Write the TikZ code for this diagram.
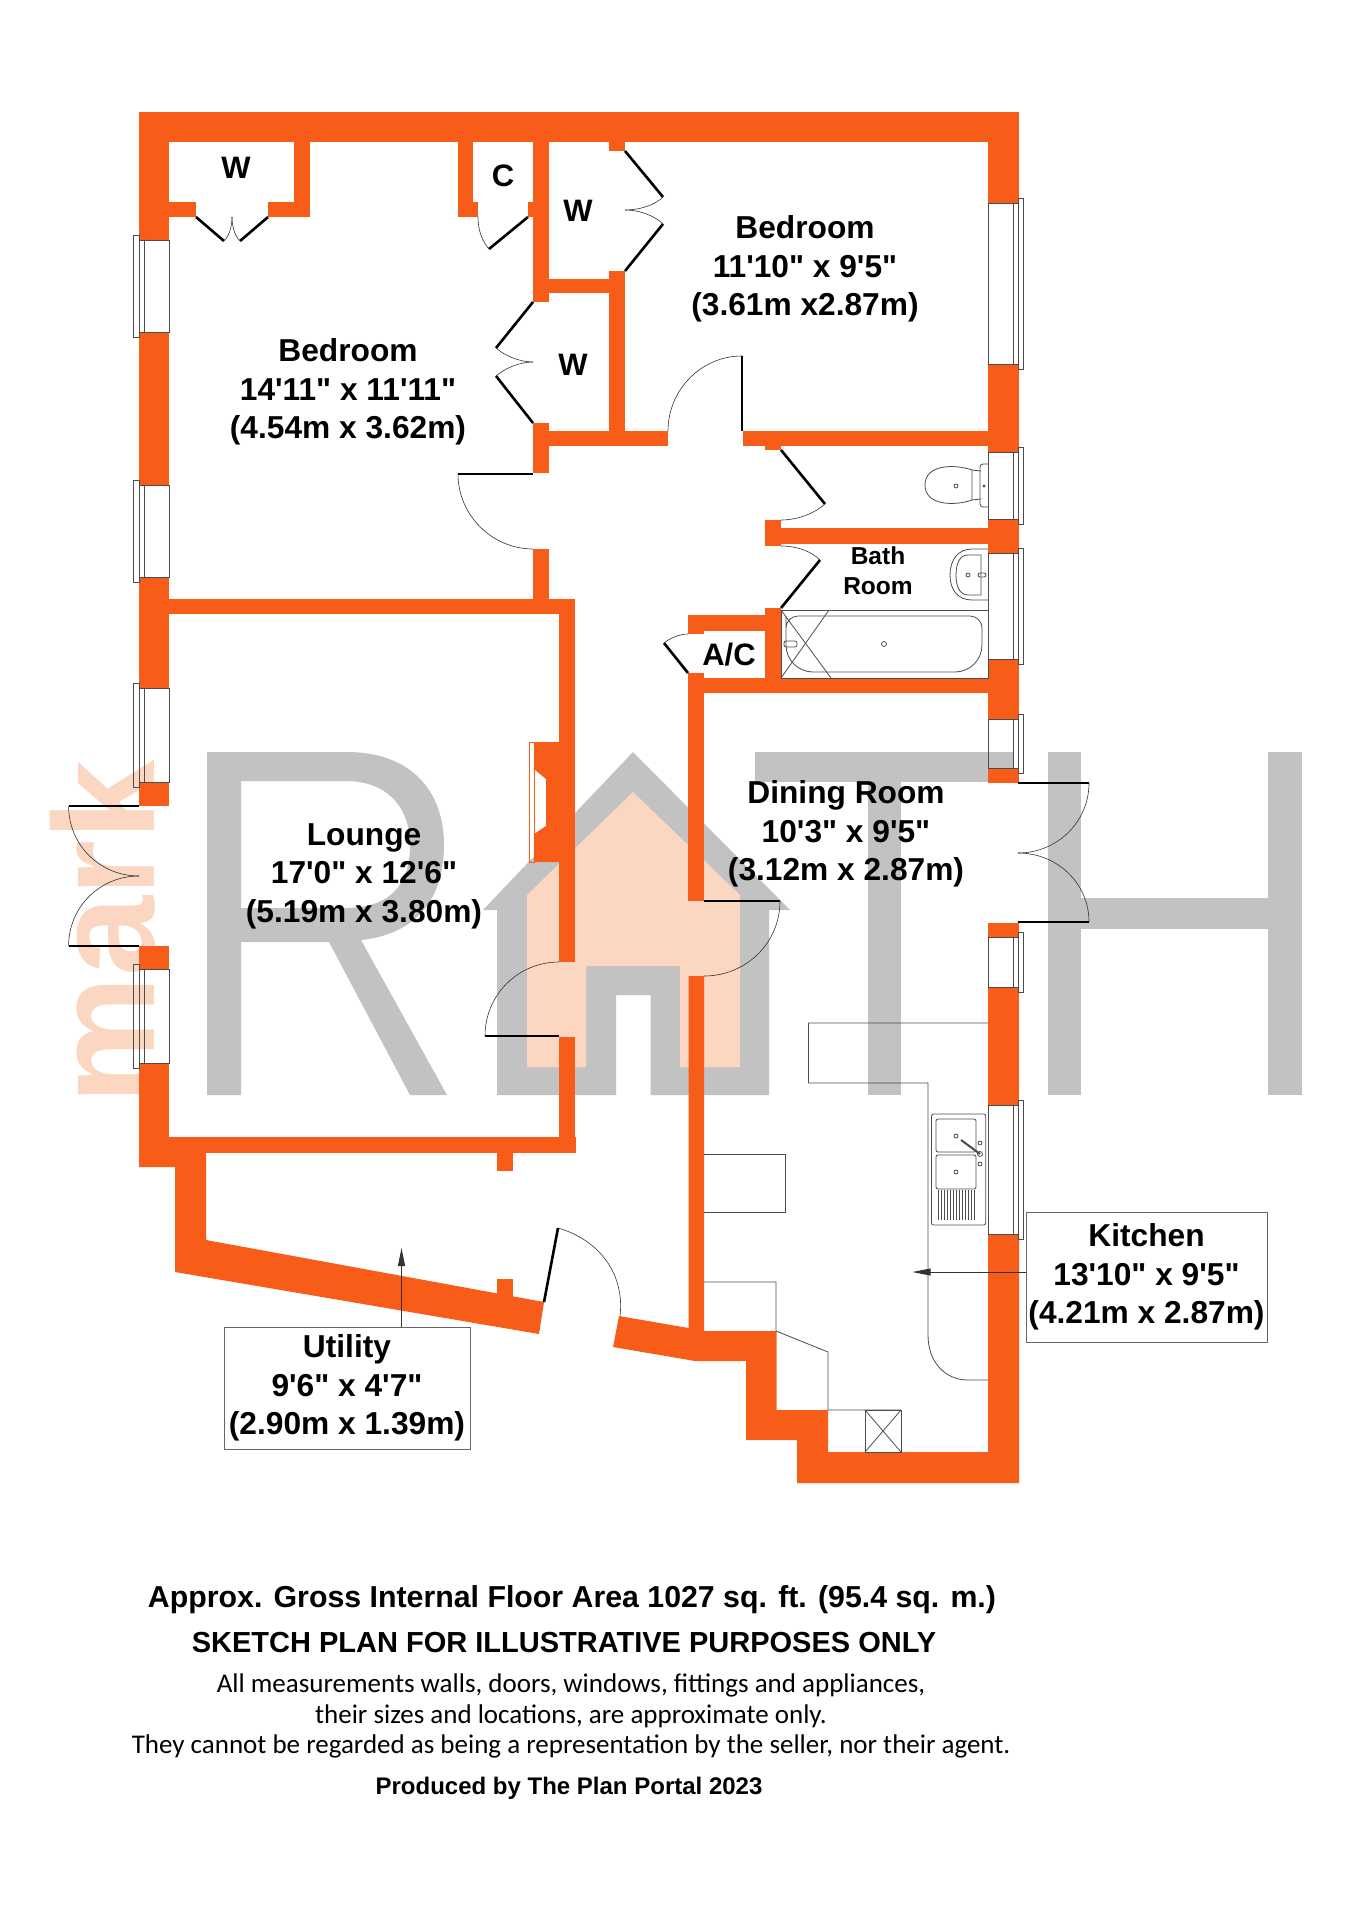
\documentclass[tikz,border=0pt]{standalone}
\usepackage{fontspec}
\newfontfamily\planfont{Liberation Sans}
\newfontfamily\noticefont{Carlito}
\usetikzlibrary{arrows.meta}
\definecolor{wallorange}{HTML}{F75D19}
\definecolor{markgray}{HTML}{C2C2C2}
\definecolor{markpeach}{HTML}{FBD6C1}
\tikzset{
 wall/.style={fill=wallorange},
 doorleaf/.style={draw=black, line width=2.6pt},
 doorswing/.style={draw=black!80, line width=0.6pt},
 fixture/.style={draw=black!70, line width=0.8pt},
 glazing/.style={draw=black!70, line width=0.7pt},
 roomlabel/.style={font=\planfont\bfseries\fontsize{31.7}{38.5}\selectfont, align=center, inner sep=0pt},
 smalllabel/.style={font=\planfont\bfseries\fontsize{31}{31}\selectfont, inner sep=0pt},
 boxlabel/.style={roomlabel, draw=black!60, line width=0.8pt, minimum width=#1},
 pointer/.style={draw=black!80, line width=0.8pt, -{Triangle[length=18pt,width=7pt]}}
}
% windows in the west and east walls: y from, y to
\newcommand{\westwindow}[2]{
 \draw[glazing] (139,#1) rectangle (169,#2);
 \draw[glazing] (144,#1) -- (144,#2);
 \draw[glazing] (133,#1-5) rectangle (139,#2+5);
}
\newcommand{\eastwindow}[2]{
 \draw[glazing] (988,#1) rectangle (1018,#2);
 \draw[glazing] (1013,#1) -- (1013,#2);
 \draw[glazing] (1018,#1-5) rectangle (1023,#2+5);
}
\begin{document}
\begin{tikzpicture}[x=1pt, y=-1pt]
 \useasboundingbox (0,0) rectangle (1350,1910);
 % watermark
 \node[rotate=90, anchor=base west, inner sep=0pt, text=markpeach, font=\planfont\bfseries\fontsize{144}{144}\selectfont] (markword) at (154,1105) {mark};
 \fill[markgray, even odd rule] (207,752) -- (347,752) .. controls (410,752) and (444,790) .. (444,845)
  .. controls (444,905) and (410,935) .. (361,940) -- (447,1095) -- (410,1095) -- (329,942) -- (241,942) -- (241,1095) -- (207,1095) -- cycle
  (241,781) -- (345,781) .. controls (390,781) and (410,810) .. (410,845) .. controls (410,885) and (390,908) .. (345,908) -- (241,908) -- cycle;
 \fill[markgray] (633,752) -- (790,910) -- (769,910) -- (769,1095) -- (650.6,1095) -- (650.6,995) -- (616,995) -- (616,1095) -- (497,1095) -- (497,910) -- (483,910) -- cycle;
 \fill[markpeach] (633,792) -- (740,895) -- (740,1067) -- (680,1067) -- (680,966) -- (586,966) -- (586,1067) -- (527,1067) -- (527,895) -- cycle;
 \fill[markgray] (755,752) rectangle (1013,782);
 \fill[markgray] (868,752) rectangle (900.6,1095);
 \fill[markgray] (1048,752) rectangle (1081,1095);
 \fill[markgray] (1268,752) rectangle (1302,1095);
 \fill[markgray] (1081,898) rectangle (1268,929);
 % outer walls
 \fill[wall] (139,112) rectangle (1019,142);
 \fill[wall] (139,142) rectangle (169,240);
 \fill[wall] (139,332) rectangle (169,485);
 \fill[wall] (139,577) rectangle (169,688);
 \fill[wall] (139,782) rectangle (169,806);
 \fill[wall] (139,946) rectangle (169,969);
 \fill[wall] (139,1063) rectangle (169,1153);
 \fill[wall] (988,142) rectangle (1019,203);
 \fill[wall] (988,364) rectangle (1019,452);
 \fill[wall] (988,519) rectangle (1019,553);
 \fill[wall] (988,659) rectangle (1019,719);
 \fill[wall] (988,768) rectangle (1019,783);
 \fill[wall] (988,923) rectangle (1019,937);
 \fill[wall] (988,987) rectangle (1019,1105);
 \fill[wall] (139,1137) rectangle (575.5,1153);
 \fill[wall] (139,1153) -- (206,1153) -- (206,1240) -- (544,1302) -- (539,1334) -- (175,1272) -- (175,1167) -- (139,1167) -- cycle;
 \fill[wall] (619,1316) -- (688.5,1328) -- (688.5,976) -- (704,976) -- (704,1331) -- (776.5,1331) -- (776.5,1410) -- (828,1410) -- (828,1452) -- (988,1452) -- (988,1234) -- (1019,1234) -- (1019,1483) -- (797,1483) -- (797,1440) -- (746,1440) -- (746,1361) -- (695,1361) -- (613,1347) -- cycle;
 % inner walls
 \fill[wall] (294,142) rectangle (310,217);
 \fill[wall] (169,202) rectangle (196,217);
 \fill[wall] (268,202) rectangle (294,217);
 \fill[wall] (458,142) rectangle (473,217);
 \fill[wall] (473,202) rectangle (478,217);
 \fill[wall] (528,202) rectangle (533,217);
 \fill[wall] (533,142) rectangle (549,302);
 \fill[wall] (533,423) rectangle (549,473);
 \fill[wall] (533,549) rectangle (549,599);
 \fill[wall] (549,279) rectangle (625,293);
 \fill[wall] (609,271) rectangle (625,431);
 \fill[wall] (609,142) rectangle (625,151);
 \fill[wall] (549,431) rectangle (668,446);
 \fill[wall] (743,431) rectangle (988,446);
 \fill[wall] (765,446) rectangle (781,450);
 \fill[wall] (139,599) rectangle (575,614);
 \fill[wall] (559,614) rectangle (575,962);
 \fill[wall] (559,1037) rectangle (575,1137);
 \fill[wall] (534,742) -- (559,742) -- (559,862) -- (534,862) -- (534,834) -- (546,826) -- (546,779) -- (534,769) -- cycle;
 \draw[wallorange, line width=0.6pt] (529,742) rectangle (534,862);
 \fill[wall] (765,520) rectangle (781,546);
 \fill[wall] (781,528) rectangle (988,544);
 \fill[wall] (765,608) rectangle (781,693);
 \fill[wall] (688,615) rectangle (765,631);
 \fill[wall] (688,631) rectangle (704,634);
 \fill[wall] (688,673) rectangle (704,901);
 \fill[wall] (704,678) rectangle (988,693);
 \fill[wall] (497,1153) rectangle (513,1171);
 \fill[wall] (497,1279) rectangle (513,1300);
 % windows
 \westwindow{240}{332}
 \westwindow{485}{577}
 \westwindow{688}{782}
 \westwindow{969}{1063}
 \eastwindow{203}{364}
 \eastwindow{452}{519}
 \eastwindow{553}{659}
 \eastwindow{719}{768}
 \eastwindow{937}{987}
 \eastwindow{1105}{1234}
 % door leaves
 \draw[doorleaf] (196,217) -- (224,241);
 \draw[doorleaf] (268,217) -- (240,241);
 \draw[doorleaf] (528,217) -- (489,249);
 \draw[doorleaf] (533,302) -- (496,348);
 \draw[doorleaf] (533,423) -- (496,376);
 \draw[doorleaf] (625,151) -- (663,197);
 \draw[doorleaf] (625,271) -- (663,224);
 \draw[doorleaf] (458,474) -- (533,474);
 \draw[doorleaf] (742,356) -- (742,431);
 \draw[doorleaf] (781,450) -- (825,504);
 \draw[doorleaf] (820,560) -- (781,608);
 \draw[doorleaf] (664,643) -- (688,673);
 \draw[doorleaf] (68.6,806) -- (139,806);
 \draw[doorleaf] (68.6,946) -- (139,946);
 \draw[doorleaf] (485,1036) -- (559,1036);
 \draw[doorleaf] (704,901) -- (780,901);
 \draw[doorleaf] (1018,783) -- (1089,783);
 \draw[doorleaf] (1018,922) -- (1089,922);
 \draw[doorleaf] (544,1302) -- (558,1228);
 % door swings
 \draw[doorswing] (224,241) .. controls (230,235) and (232,225) .. (232,217);
 \draw[doorswing] (240,241) .. controls (234,235) and (232,225) .. (232,217);
 \draw[doorswing] (478,217) .. controls (478,230) and (482,241) .. (489,249);
 \draw[doorswing] (496,348) .. controls (505,356) and (520,362) .. (533,362);
 \draw[doorswing] (496,376) .. controls (505,368) and (520,362) .. (533,362);
 \draw[doorswing] (663,197) .. controls (655,205) and (640,210) .. (625,210);
 \draw[doorswing] (663,224) .. controls (655,216) and (640,210) .. (625,210);
 \draw[doorswing] (458,474) .. controls (458,515) and (492,549) .. (533,549);
 \draw[doorswing] (742,356) .. controls (701,356) and (668,390) .. (668,431);
 \draw[doorswing] (825,504) .. controls (815,513) and (798,520) .. (781,520);
 \draw[doorswing] (781,546) .. controls (798,546) and (812,552) .. (820,560);
 \draw[doorswing] (664,643) .. controls (670,638) and (680,634) .. (688,634);
 \draw[doorswing] (68.6,806) .. controls (68.6,845) and (100,876) .. (139,876);
 \draw[doorswing] (68.6,946) .. controls (68.6,907) and (100,876) .. (139,876);
 \draw[doorswing] (485,1036) .. controls (485,995) and (518,962) .. (559,962);
 \draw[doorswing] (780,901) .. controls (780,943) and (746,976) .. (704,976);
 \draw[doorswing] (1089,783) .. controls (1089,822) and (1057,853) .. (1018,853);
 \draw[doorswing] (1089,922) .. controls (1089,883) and (1057,853) .. (1018,853);
 \draw[doorswing] (558,1228) .. controls (600,1240) and (625,1275) .. (620,1316);
 % bathroom fittings
 \draw[fixture] (972,470) .. controls (955,464) and (925,464) .. (925,485) .. controls (925,506) and (955,506) .. (972,500) -- cycle;
 \draw[fixture] (972,470) -- (981,471) (972,500) -- (981,499);
 \draw[fixture, rounded corners=3pt] (988,464) -- (980,464) -- (980,507) -- (988,507);
 \draw[fixture] (956,486) circle (2pt);
 \draw[fixture] (984,486) circle (1pt);
 \draw[fixture] (988,549) -- (972,549) .. controls (958,549) and (950,560) .. (950,575) .. controls (950,590) and (958,600) .. (972,600) -- (988,600);
 \draw[fixture] (981,555) -- (968,555) .. controls (960,555) and (956,563) .. (956,575) .. controls (956,587) and (960,595) .. (968,595) -- (981,595) -- cycle;
 \draw[fixture] (968,575) circle (2pt);
 \draw[fixture, rounded corners=2pt] (978,573) rectangle (986,577);
 \draw[fixture] (781,610) rectangle (988,678);
 \draw[fixture] (786,628) [rounded corners=12pt] |- (982,616) [rounded corners=27pt] |- (786,672) [rounded corners=12pt] -- cycle;
 \draw[fixture] (781,610) -- (831,678);
 \draw[fixture] (829,610) -- (781,678);
 \draw[fixture] (884,644) circle (2.5pt);
 \draw[fixture, rounded corners=2pt] (784,641) rectangle (797,647);
 % kitchen fittings
 \draw[fixture] (988,1023) -- (808.5,1023) -- (808.5,1083) -- (928,1083) -- (928,1335) .. controls (928,1362) and (945,1380) .. (968,1380) -- (988,1380);
 \draw[fixture] (704,1154) -- (785,1154) -- (785,1212) -- (704,1212);
 \draw[fixture] (704,1282) -- (776,1282) -- (776,1331) -- (828,1352) -- (828,1410) -- (901,1410);
 \draw[fixture] (865,1410) rectangle (901,1452);
 \draw[fixture] (865,1410) -- (901,1452);
 \draw[fixture] (901,1410) -- (865,1452);
 \draw[fixture, rounded corners=2pt] (931.5,1114) rectangle (985.7,1225);
 \draw[fixture, rounded corners=2pt] (936,1119) rectangle (976,1152);
 \draw[fixture, rounded corners=2pt] (936,1155) rectangle (976,1189);
 \foreach \drainx in {938,941,...,974} {
  \draw[fixture] (\drainx,1190) -- (\drainx,1220);
 }
 \draw[fixture] (956,1136) circle (2pt);
 \draw[fixture] (956,1172) circle (2pt);
 \draw[fixture, line width=2pt] (961,1140) -- (980,1154);
 \draw[fixture] (980,1154) circle (2.5pt);
 \draw[fixture] (980,1143) circle (2pt);
 \draw[fixture] (980,1164) circle (2pt);
 % room labels
 \node[smalllabel] (wclosetwest) at (236,168) {W};
 \node[smalllabel] (cupboard) at (503,176) {C};
 \node[smalllabel] (wclosetnorth) at (578,211) {W};
 \node[smalllabel] (wclosetmid) at (573,365) {W};
 \node[roomlabel] (bedroomwest) at (348,392) {Bedroom\\14'11" x 11'11"\\(4.54m x 3.62m)};
 \node[roomlabel] (bedroomeast) at (805,269) {Bedroom\\11'10" x 9'5"\\(3.61m x2.87m)};
 \node[roomlabel, font=\planfont\bfseries\fontsize{24.5}{30}\selectfont] (bathroom) at (878,571) {Bath\\Room};
 \node[smalllabel] (airing) at (729,655) {A/C};
 \node[roomlabel] (lounge) at (364,876) {Lounge\\17'0" x 12'6"\\(5.19m x 3.80m)};
 \node[roomlabel] (dining) at (846,834) {Dining Room\\10'3" x 9'5"\\(3.12m x 2.87m)};
 \node[boxlabel=241pt, minimum height=130pt] (kitchenbox) at (1146.5,1277) {Kitchen\\13'10" x 9'5"\\(4.21m x 2.87m)};
 \node[boxlabel=246pt, minimum height=122pt] (utilitybox) at (347,1388) {Utility\\9'6" x 4'7"\\(2.90m x 1.39m)};
 \coordinate (kitchentip) at (912.5,1272);
 \coordinate (utilitytip) at (401.5,1248);
 \draw[pointer] (kitchentip -| kitchenbox.west) -- (kitchentip);
 \draw[pointer] (utilitytip |- utilitybox.north) -- (utilitytip);
 % notes below the plan
 \node[font=\planfont\bfseries\fontsize{30.3}{30.3}\selectfont, inner sep=0pt] (areanote) at (572,1600) {Approx. Gross Internal Floor Area 1027 sq. ft. (95.4 sq. m.)};
 \node[font=\planfont\bfseries\fontsize{29}{29}\selectfont, inner sep=0pt] (sketchnote) at (564,1642) {SKETCH PLAN FOR ILLUSTRATIVE PURPOSES ONLY};
 \node[font=\noticefont\fontsize{27}{30.5}\selectfont, align=center, inner sep=0pt] (disclaimer) at (571,1716) {All measurements walls, doors, windows, fittings and appliances,\\their sizes and locations, are approximate only.\\They cannot be regarded as being a representation by the seller, nor their agent.};
 \node[font=\planfont\bfseries\fontsize{24}{24}\selectfont, inner sep=0pt] (producer) at (569,1788) {Produced by The Plan Portal 2023};
\end{tikzpicture}
\end{document}
